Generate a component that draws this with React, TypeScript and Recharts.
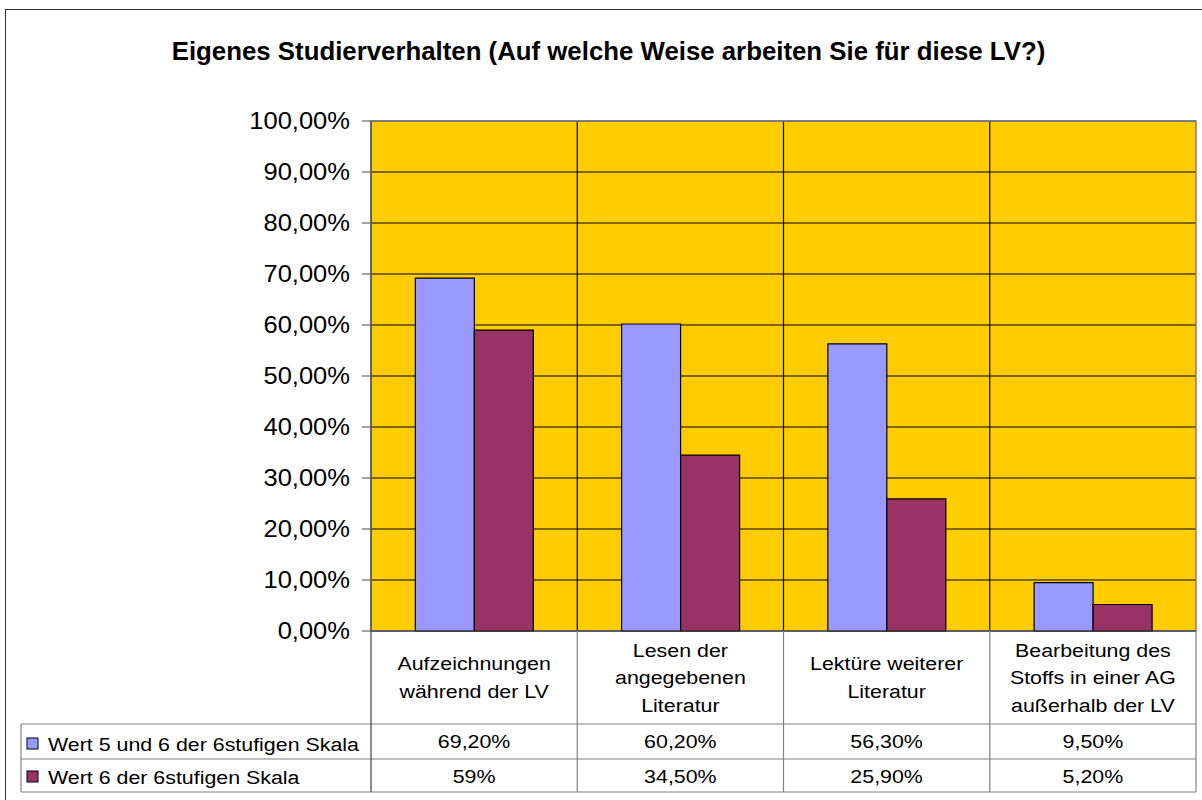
import React from 'react';
import { BarChart, Bar, XAxis, YAxis, CartesianGrid, ReferenceArea } from 'recharts';

const title = 'Eigenes Studierverhalten (Auf welche Weise arbeiten Sie für diese LV?)';
const categories = [
  'Aufzeichnungen während der LV',
  'Lesen der angegebenen Literatur',
  'Lektüre weiterer Literatur',
  'Bearbeitung des Stoffs in einer AG außerhalb der LV',
];
const categoryLines = [
  ['Aufzeichnungen', 'während der LV'],
  ['Lesen der', 'angegebenen', 'Literatur'],
  ['Lektüre weiterer', 'Literatur'],
  ['Bearbeitung des', 'Stoffs in einer AG', 'außerhalb der LV'],
];
const seriesNames = ['Wert 5 und 6 der 6stufigen Skala', 'Wert 6 der 6stufigen Skala'];
const series1 = [0.692, 0.602, 0.563, 0.095];
const series2 = [0.59, 0.345, 0.259, 0.052];
const series1Labels = ['69,20%', '60,20%', '56,30%', '9,50%'];
const series2Labels = ['59%', '34,50%', '25,90%', '5,20%'];
const yTicks = [0, 0.1, 0.2, 0.3, 0.4, 0.5, 0.6, 0.7, 0.8, 0.9, 1];

const colors = ['#9999FF', '#993366'];
const FONT = '"Liberation Sans", Arial, sans-serif';

const data = categories.map((c, i) => ({ name: c, s1: series1[i], s2: series2[i] }));

const fmtPct = (v: number) => (v * 100).toFixed(2).replace('.', ',') + '%';

const CAT_H = 93;
const ROW1_H = 35;
const ROW2_H = 33;
const LEGEND_W = 350;
const LINE_GAP = 27.5;
const TABLE_SIZE = 18.6;
const TABLE_SX = 1.15;
const BORDER = '#808080';

const SText = ({ x, y, anchor, size, sx, children }: any) => (
  <g transform={`translate(${x},${y}) scale(${sx},1)`}>
    <text x={0} y={0} textAnchor={anchor} style={{ fontFamily: FONT, fontSize: size, fill: '#000' }}>
      {children}
    </text>
  </g>
);

const YTick = (props: any) => {
  const { x, y, payload } = props;
  return (
    <SText x={x} y={y + 8} anchor="end" size={23} sx={1.11}>
      {fmtPct(payload.value)}
    </SText>
  );
};

const TableTick = (props: any) => {
  const { x, y, index, payload, width, visibleTicksCount } = props;
  const n = visibleTicksCount || categories.length;
  const w = payload && payload.offset ? payload.offset * 2 : width / n;
  const left = x - w / 2;
  const right = x + w / 2;
  const lines = categoryLines[index] || [String(payload.value)];
  const catCenter = y + CAT_H / 2;
  const r1 = y + CAT_H;
  const r2 = r1 + ROW1_H;
  const r3 = r2 + ROW2_H;
  const els: any[] = [];
  lines.forEach((ln, k) => {
    els.push(
      <SText key={'c' + k} x={x} y={catCenter + (k - (lines.length - 1) / 2) * LINE_GAP + 6.7} anchor="middle" size={TABLE_SIZE} sx={TABLE_SX}>
        {ln}
      </SText>
    );
  });
  els.push(
    <SText key="v1" x={x} y={r1 + ROW1_H / 2 + 6.7} anchor="middle" size={TABLE_SIZE} sx={TABLE_SX}>{series1Labels[index]}</SText>
  );
  els.push(
    <SText key="v2" x={x} y={r2 + ROW2_H / 2 + 7.5} anchor="middle" size={TABLE_SIZE} sx={TABLE_SX}>{series2Labels[index]}</SText>
  );
  els.push(<line key="vr" x1={right} x2={right} y1={y} y2={r3} stroke={BORDER} strokeWidth={1.2} />);
  const hl = index === 0 ? left - LEGEND_W : left;
  els.push(<line key="h1" x1={hl} x2={right} y1={r1} y2={r1} stroke={BORDER} strokeWidth={1.2} />);
  els.push(<line key="h2" x1={hl} x2={right} y1={r2} y2={r2} stroke={BORDER} strokeWidth={1.2} />);
  els.push(<line key="h3" x1={hl} x2={right} y1={r3} y2={r3} stroke={BORDER} strokeWidth={1.2} />);
  if (index === 0) {
    els.push(<line key="vl" x1={left} x2={left} y1={y} y2={r3} stroke="#444" strokeWidth={1.2} />);
    els.push(<line key="vll" x1={left - LEGEND_W} x2={left - LEGEND_W} y1={r1} y2={r3} stroke={BORDER} strokeWidth={1.2} />);
    const lx = left - LEGEND_W + 6;
    [r1 + ROW1_H / 2 + 2, r2 + ROW2_H / 2 + 1].forEach((cy, k) => {
      els.push(<rect key={'lk' + k} x={lx} y={cy - 5.5} width={11} height={11} fill={colors[k]} stroke="#000" strokeWidth={1} />);
      els.push(
        <SText key={'ln' + k} x={lx + 21} y={cy + 7.5} anchor="start" size={TABLE_SIZE} sx={TABLE_SX}>{seriesNames[k]}</SText>
      );
    });
  }
  return <g>{els}</g>;
};

export default function App() {
  return (
    <div style={{ position: 'absolute', left: 0, top: 0, width: 1202, height: 800, background: '#fff', overflow: 'hidden' }}>
      <div style={{ position: 'absolute', left: 5, top: 9, width: 1220, height: 820, border: '1.5px solid #333', boxSizing: 'border-box' }} />
      <div
        style={{
          position: 'absolute',
          left: 0,
          top: 36,
          width: 1217,
          textAlign: 'center',
          fontFamily: FONT,
          fontWeight: 'bold',
          fontSize: 25.8,
          lineHeight: '30px',
          color: '#000',
        }}
      >
        {title}
      </div>
      <div style={{ position: 'absolute', left: 0, top: 0 }}>
        <BarChart
          width={1202}
          height={800}
          data={data}
          margin={{ top: 121, right: 6, bottom: 8, left: 271 }}
          barCategoryGap="21.5%"
          barGap={0}
        >
          <CartesianGrid
            fill="#FFCC00"
            fillOpacity={1}
            stroke="#000"
            strokeWidth={1.2}
            horizontal={true}
            vertical={true}
            verticalCoordinatesGenerator={({ offset }: any) =>
              [1, 2, 3].map((i) => offset.left + (offset.width * i) / categories.length)
            }
          />
          <ReferenceArea y1={0} y2={1} fill="none" stroke={BORDER} strokeWidth={1.5} ifOverflow="visible" />
          <XAxis
            dataKey="name"
            height={CAT_H + ROW1_H + ROW2_H}
            interval={0}
            tickLine={false}
            tickSize={0}
            tickMargin={0}
            axisLine={{ stroke: '#444', strokeWidth: 1.2 }}
            tick={<TableTick />}
          />
          <YAxis
            width={100}
            domain={[0, 1]}
            ticks={yTicks}
            tickSize={9}
            tickMargin={12}
            axisLine={{ stroke: '#444', strokeWidth: 1.2 }}
            tickLine={{ stroke: '#666', strokeWidth: 1.2 }}
            tick={<YTick />}
            interval={0}
          />
          <Bar dataKey="s1" fill={colors[0]} stroke="#000" strokeWidth={1.2} isAnimationActive={false} />
          <Bar dataKey="s2" fill={colors[1]} stroke="#000" strokeWidth={1.2} isAnimationActive={false} />
        </BarChart>
      </div>
    </div>
  );
}
